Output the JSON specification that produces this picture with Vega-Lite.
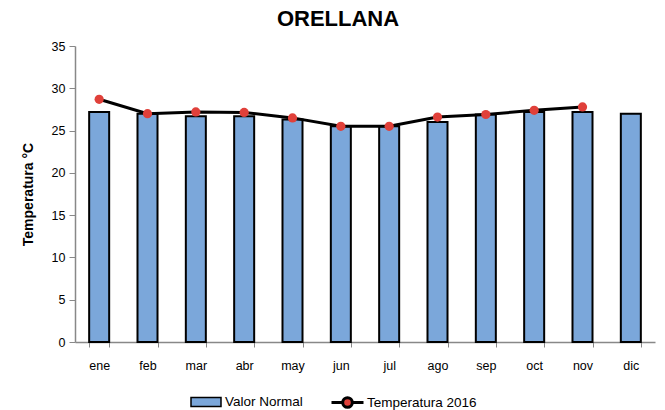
{
  "$schema": "https://vega.github.io/schema/vega-lite/v6.json",
  "width": 580,
  "height": 296,
  "autosize": {"type": "none"},
  "padding": {"left": 75, "top": 46, "right": 10, "bottom": 68},
  "background": "white",
  "config": {
    "font": "Liberation Sans",
    "view": {"stroke": null},
    "axis": {"labelFont": "Liberation Sans", "titleFont": "Liberation Sans"},
    "legend": {"labelFont": "Liberation Sans"}
  },
  "title": {
    "text": "ORELLANA",
    "fontSize": 22,
    "fontWeight": "bold",
    "font": "Liberation Sans",
    "color": "black",
    "anchor": "middle",
    "frame": "group",
    "dx": -27,
    "offset": 9
  },
  "data": {
    "values": [
      {"mes": "ene", "normal": 27.2, "t2016": 28.7},
      {"mes": "feb", "normal": 27.0, "t2016": 27.0},
      {"mes": "mar", "normal": 26.7, "t2016": 27.2},
      {"mes": "abr", "normal": 26.7, "t2016": 27.15},
      {"mes": "may", "normal": 26.3, "t2016": 26.5},
      {"mes": "jun", "normal": 25.5, "t2016": 25.5},
      {"mes": "jul", "normal": 25.5, "t2016": 25.5},
      {"mes": "ago", "normal": 26.0, "t2016": 26.6},
      {"mes": "sep", "normal": 26.9, "t2016": 26.9},
      {"mes": "oct", "normal": 27.2, "t2016": 27.4},
      {"mes": "nov", "normal": 27.2, "t2016": 27.8},
      {"mes": "dic", "normal": 27.0, "t2016": null}
    ]
  },
  "encoding": {
    "x": {
      "field": "mes",
      "type": "nominal",
      "sort": null,
      "scale": {"paddingInner": 0.586, "paddingOuter": 0.293},
      "axis": {
        "title": null,
        "labelAngle": 0,
        "labelFontSize": 12.5,
        "labelColor": "black",
        "labelPadding": 12,
        "domainColor": "#888888",
        "domainWidth": 1.5,
        "tickColor": "#888888",
        "tickSize": 5,
        "tickBand": "extent"
      }
    }
  },
  "layer": [
    {
      "mark": {"type": "bar", "stroke": "black", "strokeWidth": 2},
      "encoding": {
        "y": {
          "field": "normal",
          "type": "quantitative",
          "scale": {"domain": [0, 35]},
          "axis": {
            "title": "Temperatura °C",
            "titleFontSize": 14,
            "titleFontWeight": "bold",
            "titleColor": "black",
            "titlePadding": 16,
            "values": [0, 5, 10, 15, 20, 25, 30, 35],
            "grid": false,
            "labelFontSize": 12.5,
            "labelColor": "black",
            "labelPadding": 4,
            "domainColor": "#888888",
            "domainWidth": 1.5,
            "tickColor": "#888888",
            "tickSize": 6
          }
        },
        "fill": {
          "datum": "Valor Normal",
          "type": "nominal",
          "scale": {"range": ["#7BA7DA"]},
          "legend": {
            "title": null,
            "orient": "none",
            "legendX": 115,
            "legendY": 340,
            "symbolType": "M-1,-0.3H1V0.3H-1Z",
            "symbolSize": 900,
            "symbolStrokeColor": "black",
            "symbolStrokeWidth": 1.5,
            "labelFontSize": 13.5,
            "labelColor": "black",
            "labelOffset": 3
          }
        }
      }
    },
    {
      "mark": {"type": "line", "color": "black", "strokeWidth": 3},
      "encoding": {
        "y": {"field": "t2016", "type": "quantitative"}
      }
    },
    {
      "mark": {"type": "point", "filled": true, "size": 85, "opacity": 1},
      "encoding": {
        "y": {"field": "t2016", "type": "quantitative"},
        "fill": {
          "datum": "Temperatura 2016",
          "type": "nominal",
          "scale": {"range": ["#E0403A"]},
          "legend": {
            "title": null,
            "orient": "none",
            "legendX": 255,
            "legendY": 339,
            "symbolType": "M-1,0H-0.3M0.3,0H1M0.3,0A0.3,0.3,0,1,1,-0.3,0A0.3,0.3,0,1,1,0.3,0Z",
            "symbolSize": 1024,
            "symbolStrokeColor": "black",
            "symbolStrokeWidth": 3,
            "symbolOpacity": 1,
            "labelFontSize": 13.5,
            "labelColor": "black",
            "labelOffset": 2
          }
        }
      }
    }
  ],
  "resolve": {"scale": {"fill": "independent"}}
}
